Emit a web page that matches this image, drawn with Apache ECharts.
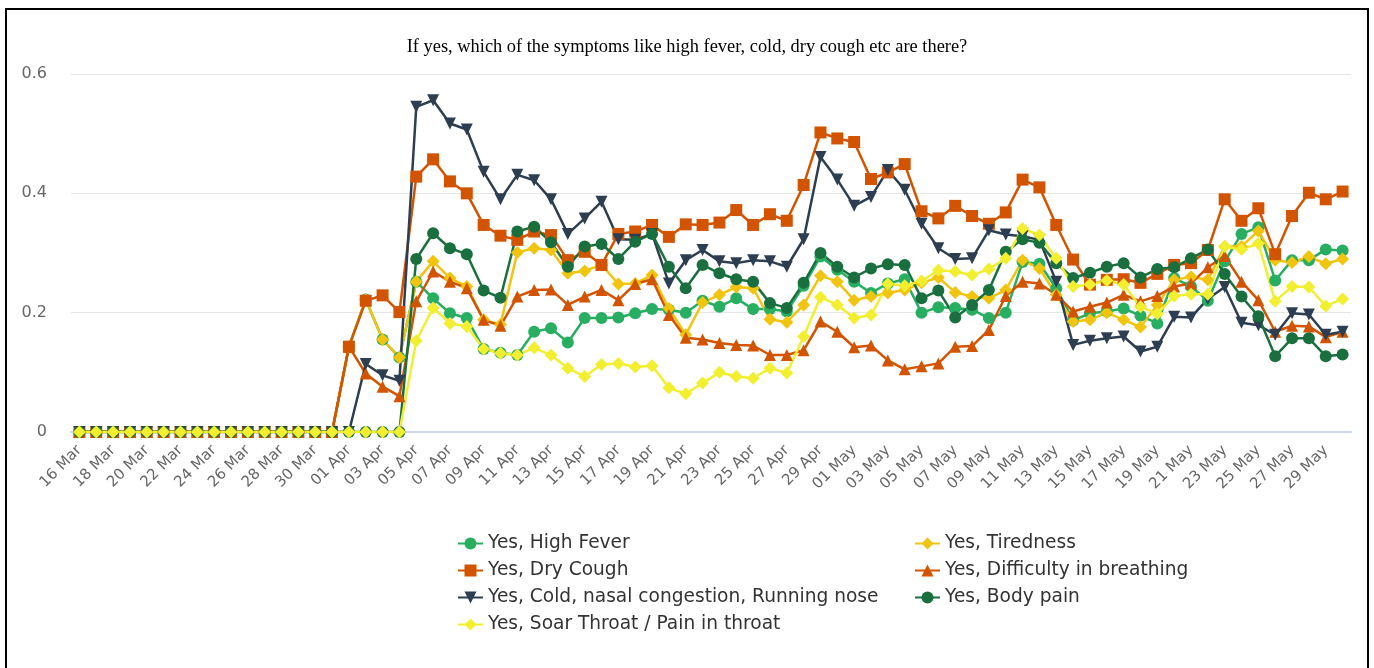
<!DOCTYPE html>
<html>
<head>
<meta charset="utf-8">
<script src="https://cdn.jsdelivr.net/npm/echarts@6/dist/echarts.min.js"></script>
<style>
html,body{margin:0;padding:0;background:#fff;}
#chart{position:absolute;left:0;top:0;width:1374px;height:668px;}
#frame{position:absolute;left:5px;top:8px;width:1360px;height:700px;border:2px solid #000;pointer-events:none;}
</style>
</head>
<body>
<div id="chart"></div>
<div id="frame"></div>
<script>
const categories = [
 '16 Mar','17 Mar','18 Mar','19 Mar','20 Mar','21 Mar','22 Mar','23 Mar','24 Mar','25 Mar','26 Mar','27 Mar','28 Mar','29 Mar','30 Mar','31 Mar',
 '01 Apr','02 Apr','03 Apr','04 Apr','05 Apr','06 Apr','07 Apr','08 Apr','09 Apr','10 Apr','11 Apr','12 Apr','13 Apr','14 Apr','15 Apr',
 '16 Apr','17 Apr','18 Apr','19 Apr','20 Apr','21 Apr','22 Apr','23 Apr','24 Apr','25 Apr','26 Apr','27 Apr','28 Apr','29 Apr','30 Apr',
 '01 May','02 May','03 May','04 May','05 May','06 May','07 May','08 May','09 May','10 May','11 May','12 May','13 May','14 May','15 May',
 '16 May','17 May','18 May','19 May','20 May','21 May','22 May','23 May','24 May','25 May','26 May','27 May','28 May','29 May','30 May'
];

const highFever = [0,0,0,0,0,0,0,0,0,0,0,0,0,0,0,0,
 0.143,0.222,0.155,0.125,0.252,0.224,0.199,0.191,0.139,0.133,0.129,0.168,0.174,0.150,0.191,
 0.191,0.192,0.199,0.206,0.205,0.200,0.220,0.210,0.224,0.206,0.206,0.202,0.245,0.294,0.272,
 0.252,0.233,0.249,0.256,0.200,0.209,0.208,0.205,0.191,0.200,0.285,0.282,0.241,0.187,0.199,
 0.202,0.207,0.195,0.182,0.258,0.244,0.220,0.286,0.332,0.343,0.254,0.288,0.288,0.306,0.304];

const tiredness = [0,0,0,0,0,0,0,0,0,0,0,0,0,0,0,0,
 0.143,0.222,0.155,0.125,0.252,0.286,0.258,0.244,0.188,0.180,0.301,0.308,0.305,0.266,0.270,
 0.280,0.248,0.249,0.263,0.207,0.163,0.217,0.230,0.243,0.241,0.189,0.184,0.213,0.262,0.252,
 0.221,0.227,0.233,0.238,0.250,0.259,0.234,0.227,0.224,0.238,0.288,0.274,0.230,0.185,0.188,
 0.200,0.188,0.176,0.213,0.255,0.260,0.255,0.311,0.311,0.337,0.288,0.284,0.294,0.282,0.290];

const dryCough = [0,0,0,0,0,0,0,0,0,0,0,0,0,0,0,0,
 0.143,0.220,0.229,0.201,0.428,0.457,0.420,0.400,0.347,0.329,0.322,0.336,0.330,0.288,0.302,
 0.280,0.332,0.336,0.347,0.327,0.348,0.347,0.351,0.372,0.347,0.365,0.354,0.414,0.502,0.492,
 0.486,0.424,0.435,0.449,0.370,0.358,0.379,0.362,0.349,0.368,0.423,0.410,0.347,0.289,0.247,
 0.255,0.256,0.250,0.265,0.280,0.283,0.305,0.390,0.354,0.375,0.298,0.362,0.401,0.390,0.403];

const difficultyBreathing = [0,0,0,0,0,0,0,0,0,0,0,0,0,0,0,0,
 0.143,0.098,0.076,0.060,0.219,0.269,0.252,0.241,0.188,0.178,0.227,0.238,0.239,0.213,0.227,
 0.238,0.221,0.248,0.256,0.196,0.158,0.155,0.149,0.146,0.145,0.129,0.129,0.137,0.185,0.168,
 0.142,0.145,0.120,0.105,0.110,0.115,0.143,0.144,0.171,0.228,0.252,0.249,0.230,0.202,0.210,
 0.217,0.230,0.219,0.228,0.244,0.249,0.276,0.295,0.252,0.221,0.168,0.178,0.177,0.159,0.168];

const coldNasal = [0,0,0,0,0,0,0,0,0,0,0,0,0,0,0,0,
 0,0.114,0.095,0.086,0.545,0.556,0.517,0.507,0.436,0.390,0.431,0.422,0.390,0.332,0.358,
 0.386,0.323,0.322,0.332,0.249,0.288,0.305,0.286,0.283,0.288,0.286,0.277,0.323,0.461,0.423,
 0.379,0.394,0.439,0.406,0.349,0.308,0.290,0.291,0.338,0.331,0.328,0.322,0.252,0.146,0.153,
 0.157,0.160,0.135,0.143,0.193,0.192,0.223,0.243,0.183,0.179,0.163,0.199,0.197,0.163,0.168];

const bodyPain = [0,0,0,0,0,0,0,0,0,0,0,0,0,0,0,0,
 0,0,0,0,0.290,0.333,0.308,0.298,0.237,0.225,0.336,0.344,0.318,0.277,0.311,
 0.315,0.290,0.319,0.332,0.277,0.241,0.280,0.266,0.256,0.252,0.216,0.208,0.250,0.300,0.277,
 0.259,0.274,0.281,0.280,0.224,0.237,0.192,0.213,0.238,0.302,0.323,0.317,0.283,0.258,0.267,
 0.277,0.283,0.259,0.273,0.276,0.291,0.306,0.265,0.227,0.194,0.127,0.157,0.157,0.127,0.130];

const soarThroat = [0,0,0,0,0,0,0,0,0,0,0,0,0,0,0,0,
 0,0,0,0,0.153,0.208,0.182,0.177,0.139,0.132,0.129,0.141,0.129,0.107,0.093,
 0.113,0.115,0.109,0.111,0.074,0.064,0.082,0.100,0.093,0.090,0.107,0.099,0.160,0.226,0.213,
 0.191,0.196,0.248,0.245,0.253,0.271,0.269,0.263,0.273,0.291,0.341,0.330,0.291,0.244,0.247,
 0.254,0.247,0.210,0.198,0.228,0.231,0.231,0.311,0.306,0.316,0.219,0.244,0.243,0.211,0.223];

const yTicks = [0, 0.2, 0.4, 0.6];

const triDown = 'path://M0,0 L10,0 L5,9 Z';
function mk(name, data, color, symbol, size) {
  return {
    name: name, type: 'line', data: data,
    symbol: symbol, symbolSize: size, showAllSymbol: true,
    lineStyle: { color: color, width: 2.5 },
    itemStyle: { color: color, borderWidth: 0 },
    emphasis: { disabled: true }
  };
}

const legendText = { fontFamily: 'DejaVu Sans', fontSize: 18.6, lineHeight: 19, color: '#333' };

const chart = echarts.init(document.getElementById('chart'), null, { renderer: 'canvas' });
chart.setOption({
  animation: false,
  backgroundColor: '#fff',
  title: {
    text: 'If yes, which of the symptoms like high fever, cold, dry cough etc are there?',
    left: 'center', top: 33,
    textStyle: { fontFamily: 'Liberation Serif', fontSize: 18.4, fontWeight: 'normal', color: '#000' }
  },
  legend: [
    {
      data: ['Yes, High Fever', 'Yes, Dry Cough', 'Yes, Cold, nasal congestion, Running nose', 'Yes, Soar Throat / Pain in throat'],
      orient: 'vertical', left: 452, top: 529, itemGap: 8, itemWidth: 25, itemHeight: 15,
      textStyle: legendText
    },
    {
      data: ['Yes, Tiredness', 'Yes, Difficulty in breathing', 'Yes, Body pain'],
      orient: 'vertical', left: 909, top: 529, itemGap: 8, itemWidth: 25, itemHeight: 15,
      textStyle: legendText
    }
  ],
  grid: { left: 71, right: 23, top: 74, bottom: 236, containLabel: false },
  xAxis: {
    type: 'category', data: categories, boundaryGap: true,
    axisLine: { lineStyle: { color: '#ccd6eb', width: 2 } },
    axisTick: { show: false },
    axisLabel: { interval: 1, rotate: 45, margin: 16, color: '#666', fontSize: 15, fontFamily: 'DejaVu Sans' },
    splitLine: { show: false }
  },
  yAxis: {
    type: 'value', min: yTicks[0], max: yTicks[yTicks.length - 1], interval: 0.2,
    axisLine: { show: false }, axisTick: { show: false },
    axisLabel: { margin: 24, color: '#666', fontSize: 16, fontFamily: 'DejaVu Sans',
      formatter: function (v) { return String(Math.round(v * 10) / 10); } },
    splitLine: { lineStyle: { color: '#e6e6e6', width: 1 } }
  },
  series: [
    mk('Yes, High Fever', highFever, '#27ae60', 'circle', 12),
    mk('Yes, Tiredness', tiredness, '#f1c40f', 'diamond', 13),
    mk('Yes, Dry Cough', dryCough, '#d35400', 'rect', 12),
    mk('Yes, Difficulty in breathing', difficultyBreathing, '#d35400', 'triangle', 12),
    mk('Yes, Cold, nasal congestion, Running nose', coldNasal, '#2c3e50', triDown, 12),
    mk('Yes, Body pain', bodyPain, '#196f3d', 'circle', 12),
    mk('Yes, Soar Throat / Pain in throat', soarThroat, '#f2ee30', 'diamond', 13)
  ]
});
</script>
</body>
</html>
